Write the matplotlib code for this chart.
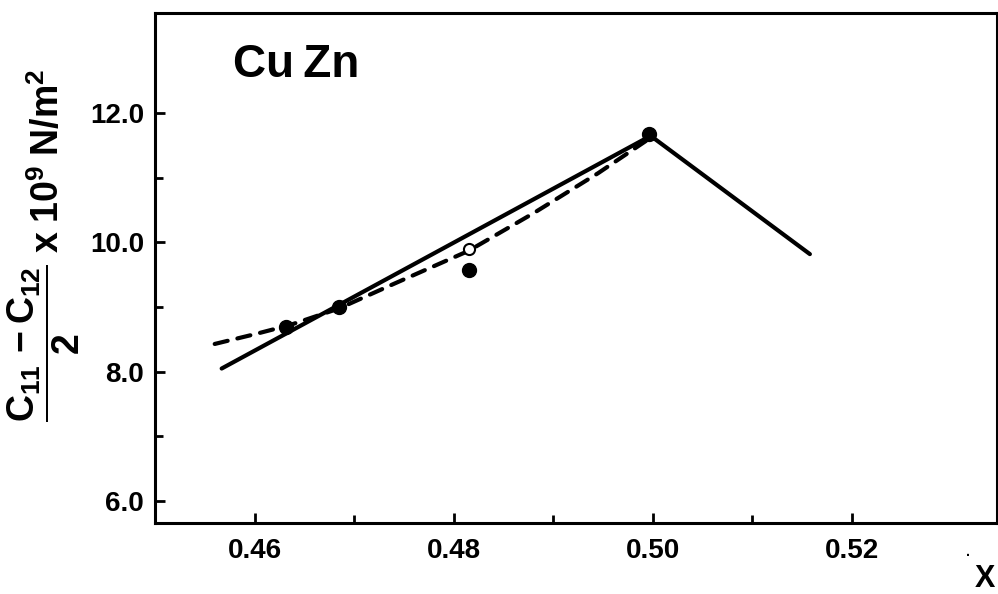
import numpy as np
import matplotlib

matplotlib.use("Agg")
import matplotlib.pyplot as plt
from matplotlib.ticker import FixedLocator

# ---- house style: bold sans, thick black ink ------------------------------ #
plt.rcParams.update({
    "font.family": ["Liberation Sans", "DejaVu Sans"],
    "font.weight": "bold",
    "axes.labelweight": "bold",
    "mathtext.fontset": "custom",
    "mathtext.rm": "Liberation Sans:bold",
    "mathtext.it": "Liberation Sans:bold",
    "mathtext.bf": "Liberation Sans:bold",
    "axes.linewidth": 2.2,
})
INK = "black"

# ---- data ----------------------------------------------------------------- #
X_SOLID = [0.4567, 0.4998, 0.5158]
Y_SOLID = [8.05, 11.65, 9.82]

X_DASH = [0.456, 0.460, 0.4635, 0.4685, 0.474, 0.4815, 0.488, 0.4945, 0.4998]
Y_DASH = [8.43, 8.58, 8.72, 8.98, 9.36, 9.87, 10.45, 11.07, 11.62]

X_DOTS = [0.4632, 0.4685, 0.4815, 0.4996]
Y_DOTS = [8.70, 9.00, 9.58, 11.68]

X_OPEN = [0.4815]
Y_OPEN = [9.90]

X_MAJOR = [0.46, 0.48, 0.50, 0.52]
X_MINOR = [0.47, 0.49, 0.51]
Y_MAJOR = [6.0, 8.0, 10.0, 12.0]
Y_MINOR = [7.0, 9.0, 11.0]

# ---- figure --------------------------------------------------------------- #
fig = plt.figure(figsize=(9.98, 5.94), dpi=100)
ax = fig.add_axes([0.1553, 0.1195, 0.8437, 0.8586])

ax.plot(X_SOLID, Y_SOLID, color=INK, lw=3.0, solid_capstyle="round",
        solid_joinstyle="round", zorder=2)
ax.plot(X_DASH, Y_DASH, color=INK, lw=3.0, ls=(0, (3.2, 2.4)),
        dash_capstyle="round", zorder=2)
ax.plot(X_DOTS, Y_DOTS, "o", color=INK, ms=10, zorder=3)
ax.plot(X_OPEN, Y_OPEN, "o", mfc="white", mec=INK, mew=1.5, ms=8, zorder=3)

ax.set_xlim(0.45, 0.5346)
ax.set_ylim(5.66, 13.55)

ax.xaxis.set_major_locator(FixedLocator(X_MAJOR))
ax.xaxis.set_minor_locator(FixedLocator(X_MINOR))
ax.yaxis.set_major_locator(FixedLocator(Y_MAJOR))
ax.yaxis.set_minor_locator(FixedLocator(Y_MINOR))
ax.set_xticklabels([f"{v:.2f}" for v in X_MAJOR])
ax.set_yticklabels([f"{v:.1f}" for v in Y_MAJOR])

ax.tick_params(which="both", direction="in", width=2.0, colors=INK,
               labelsize=20)
ax.tick_params(which="major", length=7)
ax.tick_params(which="minor", length=6)
ax.tick_params(axis="x", pad=11)
ax.tick_params(axis="y", pad=8)

ax.text(0.4578, 12.75, "Cu\u2009Zn", fontsize=33, fontweight="bold",
        ha="left", va="center")

ax.set_ylabel(r"$\dfrac{C_{11}\,-C_{12}}{2}\;$x$\;$10$^9\;$N/m$^2$",
              fontsize=27, rotation=90)
ax.yaxis.set_label_coords(-0.087, 0.545)

fig.text(0.987, 0.025, "X", fontsize=22, fontweight="bold",
         ha="center", va="center")
fig.text(0.970, 0.07, ".", fontsize=10, ha="center", va="center")

fig.savefig("out.png", dpi=100)
